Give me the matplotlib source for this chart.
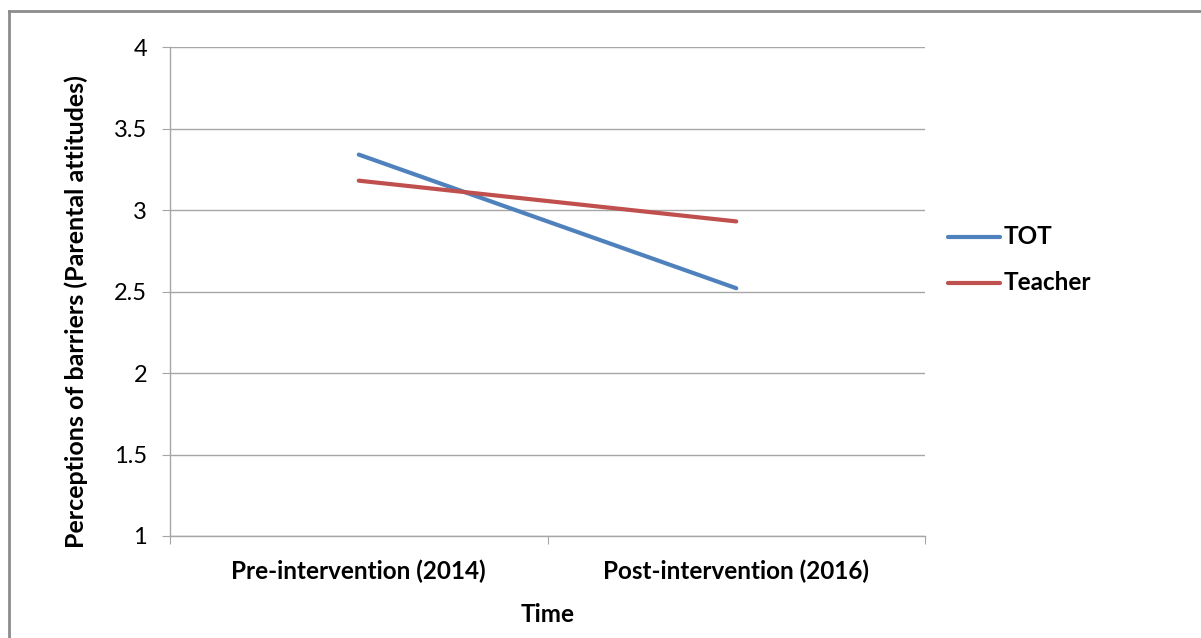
import matplotlib
matplotlib.use("Agg")
import matplotlib.pyplot as plt
from matplotlib.lines import Line2D

plt.rcParams['font.family'] = ['Lato', 'DejaVu Sans']

categories = ["Pre-intervention (2014)", "Post-intervention (2016)"]
tot_values = [3.34, 2.52]
teacher_values = [3.18, 2.93]
y_ticks = [1, 1.5, 2, 2.5, 3, 3.5, 4]
y_tick_labels = ["1", "1.5", "2", "2.5", "3", "3.5", "4"]

W, H = 1201, 638
fig = plt.figure(figsize=(W / 100, H / 100), dpi=100)

# axes box in pixel coordinates
left, right, top, bottom = 170, 925, 47, 536
ax = fig.add_axes([left / W, 1 - bottom / H, (right - left) / W, (bottom - top) / H])

grid_color = "#a6a6a6"
x = [0.5, 1.5]
ax.plot(x, tot_values, color="#4F81BD", lw=3.0, solid_capstyle="round", label="TOT", zorder=3)
ax.plot(x, teacher_values, color="#C0504D", lw=3.0, solid_capstyle="round", label="Teacher", zorder=3)

ax.set_xlim(0, 2)
ax.set_ylim(1, 4)
ax.set_yticks(y_ticks)
ax.set_yticklabels(y_tick_labels, fontsize=17)
ax.set_xticks([0, 1, 2])
ax.set_xticklabels([])
ax.set_xticks(x, minor=True)
ax.set_xticklabels(categories, minor=True, fontsize=17.5, fontweight="bold")
ax.tick_params(axis="x", which="minor", length=0, pad=17)
ax.tick_params(axis="x", which="major", length=5.5, color=grid_color, direction="out")
ax.tick_params(axis="y", length=5.5, color=grid_color, direction="out", pad=11)

ax.yaxis.grid(True, color=grid_color, lw=1)
ax.set_axisbelow(True)
for s in ["top", "right"]:
    ax.spines[s].set_visible(False)
for s in ["left", "bottom"]:
    ax.spines[s].set_color(grid_color)
    ax.spines[s].set_linewidth(1)

ax.set_xlabel("Time", fontsize=17.5, fontweight="bold", labelpad=14)
fig.text(76 / W, 1 - 312 / H, "Perceptions of barriers (Parental attitudes)", fontsize=18,
         fontweight="bold", rotation=90, ha="center", va="center")

# legend drawn at the right of the plot area
for label, color, ypix in [("TOT", "#4F81BD", 237), ("Teacher", "#C0504D", 283)]:
    fy = 1 - ypix / H
    fig.add_artist(Line2D([948 / W, 1000 / W], [fy, fy], color=color, lw=3.0,
                          solid_capstyle="round", transform=fig.transFigure))
    fig.text(1004 / W, fy, label, fontsize=17.5, fontweight="bold", va="center", ha="left")

# outer frame
frame_color = "#8c8c8c"
fig.add_artist(Line2D([9 / W, 1], [1 - 11 / H, 1 - 11 / H], color=frame_color, lw=2,
                      transform=fig.transFigure))
fig.add_artist(Line2D([9 / W, 9 / W], [0, 1 - 11 / H], color=frame_color, lw=2,
                      transform=fig.transFigure))

fig.savefig("out.png", dpi=100, facecolor="white")
